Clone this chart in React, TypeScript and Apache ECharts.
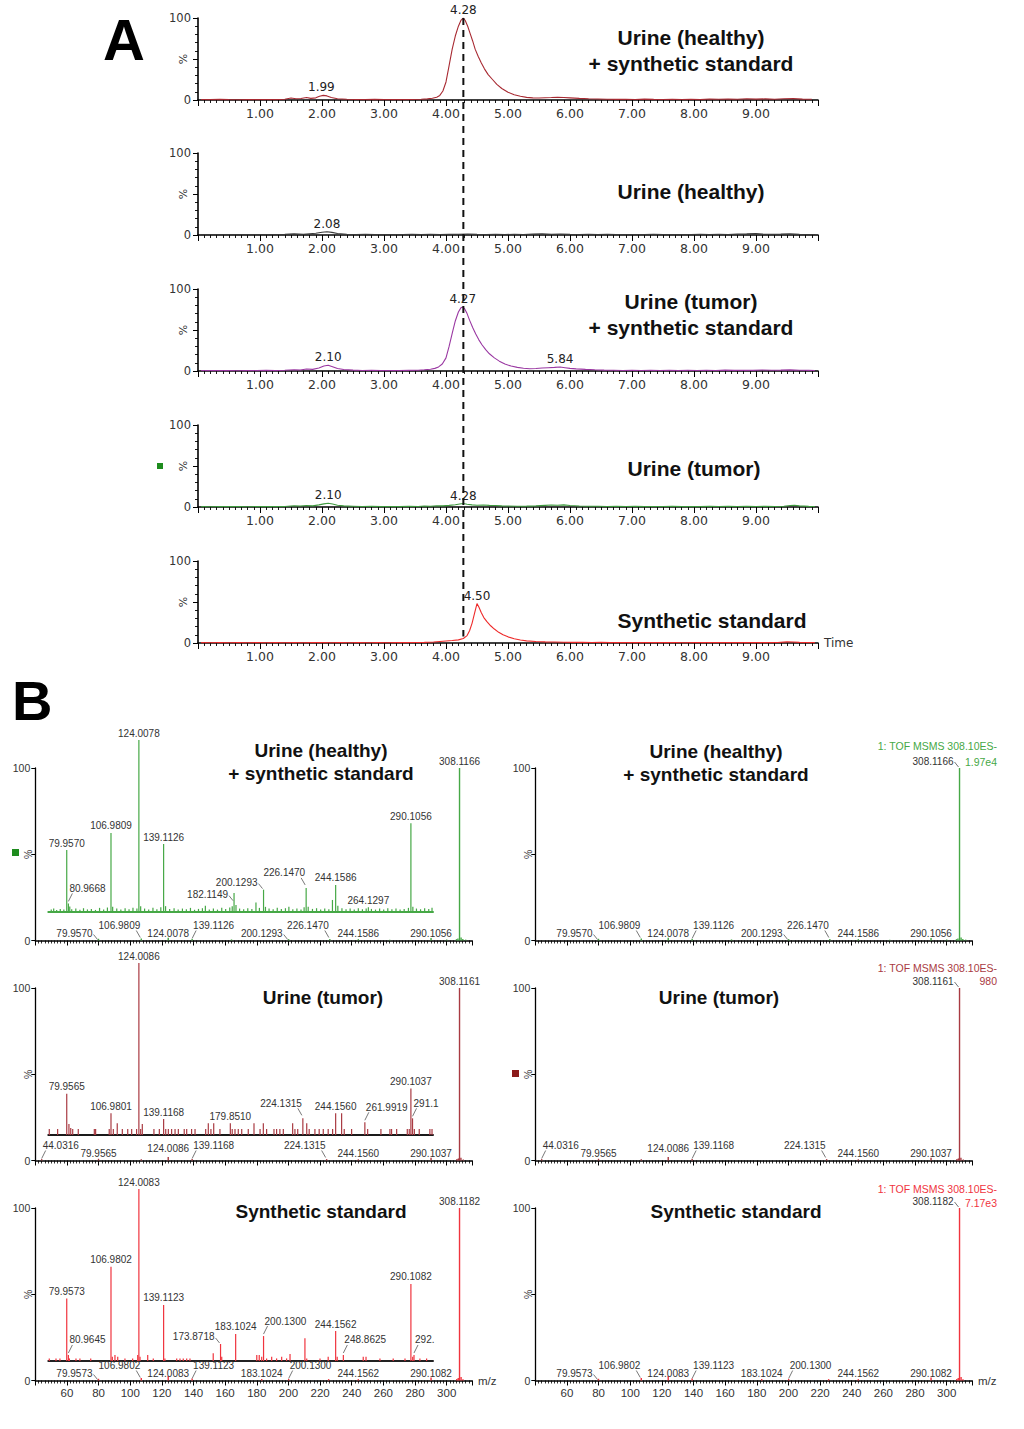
import React, { useEffect, useRef } from 'react';
import * as echarts from 'echarts';

const FONT_A = '"DejaVu Sans", Verdana, sans-serif';
const FONT_B = '"Liberation Sans", Arial, sans-serif';

// ---------- Panel A: chromatograms (time, %) ----------
const CHROM_HEALTHY_STD = [[0.05,0.6],[0.2,0.4],[0.35,0.8],[0.5,0.5],[0.65,0.3],[0.8,0.6],[0.95,0.4],[1.1,0.7],[1.25,0.5],[1.4,1.0],[1.5,2.4],[1.58,1.6],[1.66,1.8],[1.75,3.0],[1.82,2.0],[1.9,2.6],[1.96,4.6],[2.02,5.6],[2.08,5.0],[2.15,3.0],[2.25,1.6],[2.4,1.0],[2.55,0.7],[2.7,0.5],[2.85,0.8],[3.0,0.4],[3.15,0.6],[3.3,0.5],[3.45,0.7],[3.6,0.9],[3.7,1.4],[3.78,2.2],[3.85,3.4],[3.9,5.6],[3.95,11],[4.0,22],[4.05,42],[4.1,62],[4.15,78],[4.2,90],[4.24,97],[4.28,100],[4.31,97],[4.35,90],[4.39,81],[4.43,72],[4.47,62],[4.52,53],[4.57,45],[4.62,38],[4.68,31],[4.75,25],[4.82,19],[4.9,14],[5.0,9.5],[5.1,6.5],[5.2,4.5],[5.3,3.2],[5.4,2.6],[5.5,2.4],[5.6,2.8],[5.7,3.0],[5.8,3.4],[5.9,3.0],[6.0,2.6],[6.15,2.0],[6.3,1.6],[6.45,1.3],[6.6,1.0],[6.75,0.8],[6.9,1.0],[7.05,0.7],[7.2,1.1],[7.35,0.8],[7.5,0.6],[7.65,0.9],[7.8,0.6],[7.95,0.9],[8.1,0.5],[8.25,1.2],[8.4,0.9],[8.55,1.3],[8.7,1.0],[8.85,1.5],[9.0,1.1],[9.15,1.4],[9.3,1.0],[9.45,1.6],[9.6,1.8],[9.75,1.1],[9.9,0.9]];
const CHROM_HEALTHY = [[0.05,0.5],[0.2,0.3],[0.35,0.6],[0.5,0.4],[0.65,0.7],[0.8,0.4],[0.95,0.6],[1.1,0.3],[1.25,0.6],[1.4,0.8],[1.55,1.4],[1.7,1.0],[1.8,1.6],[1.9,2.2],[2.0,3.4],[2.08,4.0],[2.16,3.2],[2.25,1.8],[2.4,1.0],[2.55,0.6],[2.7,0.8],[2.85,0.5],[3.0,0.7],[3.15,0.4],[3.3,0.6],[3.45,0.8],[3.6,0.5],[3.75,0.9],[3.9,0.6],[4.05,1.0],[4.2,0.8],[4.35,1.2],[4.5,0.9],[4.65,0.7],[4.8,1.0],[4.95,0.6],[5.1,0.9],[5.25,0.7],[5.4,1.1],[5.55,1.4],[5.7,1.0],[5.85,1.2],[6.0,0.8],[6.15,0.6],[6.3,0.9],[6.45,0.5],[6.6,0.8],[6.75,0.6],[6.9,0.4],[7.05,0.7],[7.2,0.5],[7.35,0.8],[7.5,0.6],[7.65,0.4],[7.8,0.7],[7.95,0.5],[8.1,0.8],[8.25,0.6],[8.4,0.9],[8.55,0.7],[8.7,1.1],[8.85,1.4],[9.0,1.8],[9.1,1.2],[9.25,0.9],[9.4,1.1],[9.55,1.6],[9.7,1.0],[9.85,0.7],[9.95,0.6]];
const CHROM_TUMOR_STD = [[0.05,0.6],[0.2,0.4],[0.35,0.7],[0.5,0.5],[0.65,0.3],[0.8,0.6],[0.95,0.4],[1.1,0.8],[1.25,0.5],[1.4,0.9],[1.55,1.6],[1.65,1.2],[1.75,2.4],[1.85,2.0],[1.95,3.6],[2.03,6.0],[2.1,7.0],[2.17,5.2],[2.25,3.0],[2.35,1.8],[2.5,1.1],[2.65,0.7],[2.8,0.9],[2.95,0.5],[3.1,0.7],[3.25,0.5],[3.4,0.8],[3.55,1.0],[3.65,1.5],[3.75,2.2],[3.82,3.2],[3.88,5],[3.94,8.5],[4.0,16],[4.05,30],[4.1,46],[4.15,61],[4.2,72],[4.24,77],[4.27,78],[4.3,76],[4.34,70],[4.38,62],[4.43,53],[4.48,45],[4.53,38],[4.58,32],[4.64,26],[4.7,21],[4.78,16],[4.86,12],[4.95,8.5],[5.05,6],[5.15,4.4],[5.25,3.4],[5.35,2.8],[5.45,3.0],[5.55,3.6],[5.65,4.0],[5.75,4.4],[5.84,4.8],[5.92,4.0],[6.0,3.2],[6.1,2.6],[6.25,2.0],[6.4,1.5],[6.55,1.1],[6.7,0.9],[6.85,0.7],[7.0,1.0],[7.15,0.7],[7.3,0.9],[7.45,0.6],[7.6,0.8],[7.75,0.5],[7.9,0.8],[8.05,0.6],[8.2,0.9],[8.35,0.7],[8.5,1.1],[8.65,0.8],[8.8,1.0],[8.95,0.8],[9.1,1.2],[9.25,0.9],[9.4,1.1],[9.55,1.4],[9.7,1.0],[9.85,0.8],[9.95,0.6]];
const CHROM_TUMOR = [[0.05,0.5],[0.2,0.3],[0.35,0.6],[0.5,0.4],[0.65,0.5],[0.8,0.3],[0.95,0.6],[1.1,0.4],[1.25,0.5],[1.4,0.7],[1.55,1.5],[1.65,1.2],[1.75,1.8],[1.85,1.4],[1.95,2.6],[2.03,3.8],[2.1,4.5],[2.17,3.6],[2.25,2.2],[2.35,1.4],[2.5,1.0],[2.65,0.6],[2.8,0.8],[2.95,0.5],[3.1,0.7],[3.25,0.5],[3.4,0.8],[3.55,0.6],[3.65,1.2],[3.75,1.0],[3.85,1.6],[3.95,1.4],[4.05,2.0],[4.15,2.8],[4.22,3.6],[4.28,4.2],[4.34,3.4],[4.42,2.6],[4.5,2.2],[4.6,2.4],[4.7,2.0],[4.8,1.8],[4.9,1.4],[5.0,1.2],[5.15,0.9],[5.3,1.1],[5.45,1.4],[5.6,2.0],[5.7,2.4],[5.8,2.2],[5.9,2.6],[6.0,1.8],[6.15,1.2],[6.3,0.9],[6.45,1.0],[6.6,0.7],[6.75,0.9],[6.9,0.6],[7.05,0.8],[7.2,0.5],[7.35,0.7],[7.5,0.6],[7.65,0.8],[7.8,0.5],[7.95,0.7],[8.1,0.5],[8.25,0.8],[8.4,0.6],[8.55,0.8],[8.7,0.6],[8.85,0.9],[9.0,0.7],[9.15,0.8],[9.3,0.6],[9.45,1.0],[9.55,1.8],[9.62,2.2],[9.7,1.4],[9.85,0.8],[9.95,0.6]];
const CHROM_STD = [[0.05,0.4],[0.2,0.3],[0.35,0.5],[0.5,0.3],[0.65,0.4],[0.8,0.3],[0.95,0.5],[1.1,0.3],[1.25,0.4],[1.4,0.3],[1.55,0.5],[1.7,0.3],[1.85,0.4],[2.0,0.5],[2.15,0.3],[2.3,0.4],[2.45,0.3],[2.6,0.5],[2.75,0.3],[2.9,0.4],[3.05,0.3],[3.2,0.5],[3.35,0.4],[3.5,0.6],[3.65,0.8],[3.8,1.2],[3.9,1.8],[4.0,2.4],[4.1,3.0],[4.2,3.8],[4.28,5.5],[4.34,9],[4.38,15],[4.42,24],[4.46,36],[4.5,48],[4.53,44],[4.57,37],[4.61,31],[4.66,26],[4.72,21],[4.78,17],[4.85,13],[4.92,10],[5.0,7.5],[5.1,5.2],[5.2,3.6],[5.3,2.6],[5.45,1.8],[5.6,1.4],[5.75,1.2],[5.9,1.0],[6.05,0.8],[6.2,0.9],[6.35,0.6],[6.5,0.8],[6.65,0.5],[6.8,0.7],[6.95,0.5],[7.1,0.6],[7.25,0.4],[7.4,0.6],[7.55,0.4],[7.7,0.5],[7.85,0.3],[8.0,0.5],[8.15,0.4],[8.3,0.6],[8.45,0.4],[8.6,0.5],[8.75,0.4],[8.9,0.6],[9.05,0.4],[9.2,0.5],[9.35,0.6],[9.5,1.4],[9.6,1.2],[9.7,0.8],[9.85,0.5],[9.95,0.4]];
const CHROM_TRACES = [CHROM_HEALTHY_STD, CHROM_HEALTHY, CHROM_TUMOR_STD, CHROM_TUMOR, CHROM_STD];

const CHROM_PEAK_LABELS = [
  [[1.99, 5.8, '1.99'], [4.28, 100, '4.28']],
  [[2.08, 4.0, '2.08']],
  [[2.10, 7.0, '2.10'], [4.27, 78, '4.27'], [5.84, 4.8, '5.84']],
  [[2.10, 4.5, '2.10'], [4.28, 4.2, '4.28']],
  [[4.50, 48, '4.50']],
];
const CHROM_TITLES = [
  ['Urine (healthy)', '+ synthetic standard'],
  ['Urine (healthy)'],
  ['Urine (tumor)', '+ synthetic standard'],
  ['Urine (tumor)'],
  ['Synthetic standard'],
];
const RETENTION_MARK = 4.28;
const TIME_TICKS = [1, 2, 3, 4, 5, 6, 7, 8, 9];

// ---------- Panel B: MS/MS spectra (m/z, %) ----------
const SAMPLE_TITLES = [
  ['Urine (healthy)', '+ synthetic standard'],
  ['Urine (tumor)'],
  ['Synthetic standard'],
];
const MAIN_HEALTHY = [[79.957,1.0],[106.98,1.2],[124.008,1.6],[139.113,0.9],[164,0.6],[200.129,0.8],[226.147,0.9],[244.159,0.8],[264,0.5],[290.106,1.4],[300,0.6],[306.2,0.8],[307.1,1.2],[308.1166,100],[309.1,1.8],[310.2,0.8],[312,0.5]];
const MAIN_TUMOR = [[44.0316,0.8],[79.9565,1.0],[106.98,0.7],[124.0086,2.0],[139.117,0.9],[224.1315,0.8],[244.156,0.7],[290.1037,1.6],[306.5,0.8],[307.4,1.2],[308.1161,100],[309.0,1.6],[310.5,0.6]];
const MAIN_SYNTH = [[79.9573,1.0],[106.98,1.4],[124.0083,2.6],[139.112,1.2],[183.102,0.8],[200.13,0.9],[225.4,0.8],[244.156,0.8],[290.108,1.8],[306.4,0.9],[307.3,1.4],[308.1182,100],[309.1,2.0],[310.3,0.7]];
const MAIN_SPECTRA = [MAIN_HEALTHY, MAIN_TUMOR, MAIN_SYNTH];

const MAIN_LABELS_HEALTHY = [[79.957,0,'79.9570'],[106.9809,0,'106.9809'],[124.0078,0,'124.0078'],[139.1126,0,'139.1126'],[200.1293,0,'200.1293'],[226.147,0,'226.1470'],[244.1586,0,'244.1586'],[290.1056,0,'290.1056']];
const MAIN_LABELS_TUMOR = [[44.0316,0,'44.0316'],[79.9565,0,'79.9565'],[124.0086,3,'124.0086'],[139.1168,0,'139.1168'],[224.1315,0,'224.1315'],[244.156,0,'244.1560'],[290.1037,0,'290.1037']];
const MAIN_LABELS_SYNTH = [[79.9573,0,'79.9573'],[106.9802,0,'106.9802'],[124.0083,0,'124.0083'],[139.1123,0,'139.1123'],[183.1024,0,'183.1024'],[200.13,0,'200.1300'],[244.1562,0,'244.1562'],[290.1082,0,'290.1082']];
const MAIN_LABELS = [MAIN_LABELS_HEALTHY, MAIN_LABELS_TUMOR, MAIN_LABELS_SYNTH];
const PRECURSOR_LABELS = [[308.1166,100,'308.1166'],[308.1161,100,'308.1161'],[308.1182,100,'308.1182']];
const SCAN_HEADER = '1: TOF MSMS 308.10ES-';
const SCAN_INTENSITY = ['1.97e4', '980', '7.17e3'];
const MZ_TICKS = [60, 80, 100, 120, 140, 160, 180, 200, 220, 240, 260, 280, 300];

const INSET_HEALTHY = [[70.5,1.5],[72,2],[73.8,1.2],[76,1.8],[78.2,1.4],[79.957,36],[80.9668,5],[81.8,3.2],[83,1.6],[85.5,2],[88,1.3],[90.2,2.2],[92.6,1.5],[95,1.8],[97.5,1.2],[100,2.4],[102.5,1.4],[104.8,2.6],[106.9809,46],[108,3],[110.5,2],[113,1.4],[115.6,2.2],[118,1.6],[120.4,2.4],[122.8,2],[124.0078,100],[125.1,3.4],[127.5,2],[130,1.5],[132.6,2.4],[135,1.6],[137.4,2.8],[139.1126,39.5],[140.3,3.4],[142.8,1.8],[145.5,2.2],[148,1.4],[150.6,2],[153,1.6],[155.5,2.4],[158,1.3],[160.4,1.8],[162.8,2.2],[164.6,3.6],[167,1.5],[169.5,2],[172,1.4],[174.6,2.4],[177,1.8],[179.5,2.6],[181,3.4],[182.1149,11],[183.3,4],[185.5,2],[188,1.6],[190.5,2.2],[193,1.8],[195.5,5.5],[197.6,2.4],[200.1293,13],[201.3,3],[203.5,2],[206,1.6],[208.5,2.4],[211,1.8],[213.5,2.2],[215.6,3],[218,1.6],[220.5,2],[223,1.4],[224.9,2.8],[226.147,14],[227.4,3],[230,1.8],[232.5,2.2],[235,1.5],[237.5,2],[240,1.6],[242.2,7],[244.1586,15.7],[245.5,3.6],[248,2.2],[250.5,1.6],[253,2],[255.5,1.4],[258,2.2],[260.5,1.6],[262.8,2],[264.1297,2.8],[266,1.8],[268.5,1.4],[271,2],[273.5,1.5],[276,2.2],[278.5,1.6],[281,2],[283.5,1.4],[286,1.8],[288.6,2.4],[290.1056,51.6],[291.3,3],[293.5,2],[296,1.6],[298.5,2.2],[301,1.8],[303,2.4]];
const INSET_TUMOR = [[69.3,3.5],[74.4,3.5],[79.9565,24],[81.3,6.4],[82.4,4],[83.6,3.5],[87.0,3.5],[96.8,3.5],[97.6,3.5],[105.9,3.5],[106.9801,12.6],[108.4,3.5],[110.8,6.8],[113.9,3.5],[117.2,3.5],[119.6,3.5],[122.6,3.5],[124.0086,100],[125.1,3.5],[126.1,6.4],[133.2,3.5],[136.5,3.5],[139.1168,9.3],[140.4,3.5],[142,3.5],[144,3.5],[146.1,3.5],[148.1,3.5],[151.7,3.5],[153.2,3.5],[156.2,3.5],[158.3,3.5],[164.8,3.5],[166.4,6.8],[168.0,3.5],[169.7,6.8],[173.5,3.5],[179.851,6.8],[181.0,3.5],[182.7,3.5],[184.7,3.5],[186.8,3.5],[190.8,3.5],[194.3,6.8],[198.0,3.5],[200.0,6.8],[202.0,3.5],[206.5,3.5],[208.1,3.5],[210.1,3.5],[212.2,3.5],[217.9,6.8],[219.3,3.5],[221,3.5],[224.1315,9.7],[226.5,6.8],[228.0,3.5],[231.5,3.5],[234.1,3.5],[236.6,3.5],[239.6,3.5],[242.3,3.5],[244.156,12.6],[247.8,12.6],[249.4,3.5],[253.9,3.5],[261.9919,7.4],[263.7,3.5],[271.8,3.5],[277.3,3.5],[278.3,3.5],[281.4,3.5],[287.9,3.5],[289.1,3.5],[290.1037,27],[291.1,9.7],[292.2,3.5],[295.2,3.5],[301.7,3.5],[303.0,3.5]];
const INSET_SYNTH = [[69.3,1.5],[73.4,1.5],[75.8,1.5],[79.9573,36.4],[80.9645,3.5],[81.6,1.5],[85.6,1.5],[88.0,1.5],[94.6,1.5],[106.9802,54.8],[107.8,2.5],[109.4,3.5],[111.1,2.5],[115.5,1.5],[120.2,1.5],[123.3,3.5],[124.0083,100],[124.7,2.5],[129.4,3.5],[132.8,1.5],[139.1123,32.6],[139.9,1.5],[147.1,1.5],[149.1,1.5],[151.1,1.5],[153.2,1.5],[155.2,1.5],[169.4,4.5],[173.8718,9.9],[174.6,2.5],[183.1024,15.7],[196.0,3.5],[197.5,3.5],[199.0,2.5],[200.13,14.5],[202,1.5],[205.1,2.5],[208.1,1.5],[211.2,2.5],[214.2,1.5],[216.3,4],[225.4,13.2],[226.5,1.5],[234.6,1.5],[239.6,2.5],[244.1562,17.4],[245.1,2.5],[248.8625,3.5],[261,2.5],[262.7,2.5],[271.2,1.5],[279.3,1.5],[286.5,1.5],[290.1082,44.8],[291.2,2.5],[292.0,3.5],[295.6,1.5],[299.7,1.5]];
const INSET_SPECTRA = [INSET_HEALTHY, INSET_TUMOR, INSET_SYNTH];

const INSET_LABELS_HEALTHY = [[79.957,36,'79.9570'],[80.9668,5,'80.9668'],[106.9809,46,'106.9809'],[124.0078,100,'124.0078'],[139.1126,39.5,'139.1126'],[182.1149,6,'182.1149'],[200.1293,13,'200.1293'],[226.147,14,'226.1470'],[244.1586,15.7,'244.1586'],[264.1297,2.8,'264.1297'],[290.1056,51.6,'290.1056']];
const INSET_LABELS_TUMOR = [[79.9565,24,'79.9565'],[106.9801,12.6,'106.9801'],[124.0086,100,'124.0086'],[139.1168,9.3,'139.1168'],[179.851,6.8,'179.8510'],[224.1315,9.7,'224.1315'],[244.156,12.6,'244.1560'],[261.9919,7.4,'261.9919'],[290.1037,27,'290.1037'],[291.1,9.7,'291.1']];
const INSET_LABELS_SYNTH = [[79.9573,36.4,'79.9573'],[80.9645,3.5,'80.9645'],[106.9802,54.8,'106.9802'],[124.0083,100,'124.0083'],[139.1123,32.6,'139.1123'],[173.8718,9.9,'173.8718'],[183.1024,15.7,'183.1024'],[200.13,14.5,'200.1300'],[244.1562,17.4,'244.1562'],[248.8625,3.5,'248.8625'],[290.1082,44.8,'290.1082'],[292.0,3.5,'292.']];
const INSET_LABELS = [INSET_LABELS_HEALTHY, INSET_LABELS_TUMOR, INSET_LABELS_SYNTH];

// ---------- styling / layout (not data) ----------
const A_COLORS = ['#a82a32', '#3a3a3a', '#9a38a2', '#3e9a3e', '#ee2a2a'];
const B_COLORS = ['#46a846', '#a93a42', '#f0343e'];
const INSET_AXIS_COLORS = ['#46a846', '#1a1a1a', '#222222'];
const A_TOPS = [18, 153, 289, 425, 561];
const A_H = 82;
const B_TOPS = [768, 988, 1208];
const B_H = 172.5;
const B_LEFTS = [35.3, 535.3];
const B_W = 436.7;
const INSET_BOTTOMS = [912, 1135, 1361];
const INSET_RANGE = [68.7, 303.6];
const MAIN_KINDS = [
  ['l', 'L', 'c', 'R', 'l', 'L', 'c', 'c'],
  ['R', 'c', 'c', 'R', 'L', 'c', 'c'],
  ['l', 'L', 'c', 'R', 'c', 'R', 'c', 'c'],
];
const INSET_KINDS = [
  ['c', 'R', 'c', 'c', 'c', 'l', 'l', 'L', 'c', 'c', 'c'],
  ['c', 'c', 'c', 'c', 'c', 'L', 'c', 'R', 'c', 'R'],
  ['c', 'R', 'c', 'c', 'c', 'l', 'c', 'R', 'c', 'R', 'c', 'R'],
];

function annotSeries(axisIndex: number, items: any[], kinds: string[], font: string, color: string) {
  return {
    type: 'custom',
    xAxisIndex: axisIndex,
    yAxisIndex: axisIndex,
    silent: true,
    clip: false,
    z: 20,
    encode: { x: 0, y: 1 },
    data: items.map((d: any, i: number) => [d[0], d[1], i]),
    renderItem: (_p: any, api: any) => {
      const i = api.value(2);
      const pt = api.coord([api.value(0), api.value(1)]);
      const x = pt[0];
      const y = pt[1];
      const text = items[i][2];
      const k = kinds[i];
      const txt = (tx: number, ty: number, align: string, valign: string) => ({
        type: 'text', x: tx, y: ty,
        style: { text, font, fill: color, textAlign: align, textVerticalAlign: valign },
      });
      const lead = (x1: number, y1: number, x2: number, y2: number) => ({
        type: 'line', shape: { x1, y1, x2, y2 }, style: { stroke: '#555', lineWidth: 0.8 },
      });
      let children: any[];
      if (k === 'l') children = [txt(x - 6, y - 7, 'right', 'middle'), lead(x - 5, y - 6, x - 1, y - 1)];
      else if (k === 'L') children = [txt(x - 1, y - 15, 'right', 'middle'), lead(x - 5, y - 10, x - 1, y - 3)];
      else if (k === 'R') children = [txt(x + 1, y - 15, 'left', 'middle'), lead(x, y - 2, x + 4, y - 10)];
      else children = [txt(x, y - 2, 'center', 'bottom')];
      return { type: 'group', children };
    },
  };
}

function stickSeries(axisIndex: number, data: number[][], color: string, width: number) {
  return {
    type: 'custom',
    xAxisIndex: axisIndex,
    yAxisIndex: axisIndex,
    silent: true,
    z: 5,
    encode: { x: 0, y: 1 },
    data,
    renderItem: (_p: any, api: any) => {
      const mz = api.value(0);
      const p0 = api.coord([mz, 0]);
      const p1 = api.coord([mz, api.value(1)]);
      return {
        type: 'line',
        shape: { x1: p0[0], y1: p0[1], x2: p1[0], y2: p1[1] },
        style: { stroke: color, lineWidth: width },
      };
    },
  };
}

function buildOption() {
  const grid: any[] = [];
  const xAxis: any[] = [];
  const yAxis: any[] = [];
  const series: any[] = [];

  // Panel A
  for (let i = 0; i < 5; i++) {
    grid.push({ left: 198, top: A_TOPS[i], width: 620, height: A_H, containLabel: false, outerBoundsMode: 'none' });
    xAxis.push({
      type: 'value', gridIndex: i, min: 0, max: 10, interval: 1,
      axisLine: { show: true, onZero: false, lineStyle: { color: '#000', width: 1.6 } },
      axisTick: { show: true, length: 6, lineStyle: { color: '#000', width: 1 } },
      minorTick: { show: true, splitNumber: 10, length: 3, lineStyle: { color: '#000', width: 0.9 } },
      axisLabel: {
        formatter: (v: number) => (TIME_TICKS.indexOf(v) >= 0 ? v.toFixed(2) : ''),
        color: '#333', fontFamily: FONT_A, fontSize: 12.5, margin: 7,
      },
      splitLine: { show: false },
      name: i === 4 ? 'Time' : '',
      nameLocation: 'end', nameGap: 6, nameMoveOverlap: false,
      nameTextStyle: { color: '#333', fontFamily: FONT_A, fontSize: 12 },
    });
    yAxis.push({
      type: 'value', gridIndex: i, min: 0, max: 100, interval: 50,
      axisLine: { show: true, lineStyle: { color: '#000', width: 1.6 } },
      axisTick: { show: true, length: 5, lineStyle: { color: '#000', width: 1 } },
      minorTick: { show: true, splitNumber: 5, length: 3, lineStyle: { color: '#000', width: 0.9 } },
      axisLabel: {
        formatter: (v: number) => (v === 50 ? '' : String(v)),
        color: '#333', fontFamily: FONT_A, fontSize: 11.5, margin: 7,
      },
      splitLine: { show: false },
      name: '%', nameLocation: 'middle', nameRotate: 90, nameGap: 9, nameMoveOverlap: false,
      nameTextStyle: { color: '#333', fontFamily: FONT_A, fontSize: 11 },
    });
  }
  // Panel B main grids: index 5 + row*2 + col
  for (let row = 0; row < 3; row++) {
    for (let col = 0; col < 2; col++) {
      const gi = 5 + row * 2 + col;
      grid.push({ left: B_LEFTS[col], top: B_TOPS[row], width: B_W, height: B_H, containLabel: false, outerBoundsMode: 'none' });
      xAxis.push({
        type: 'value', gridIndex: gi, min: 40, max: 316, interval: 20,
        axisLine: { show: true, onZero: false, lineStyle: { color: '#000', width: 1.5 } },
        axisTick: { show: true, length: 5, lineStyle: { color: '#000', width: 1 } },
        minorTick: { show: true, splitNumber: 10, length: 3, lineStyle: { color: '#000', width: 0.8 } },
        axisLabel: {
          show: row === 2,
          formatter: (v: number) => (MZ_TICKS.indexOf(v) >= 0 ? String(v) : ''),
          color: '#333', fontFamily: FONT_B, fontSize: 11.5, margin: 6,
        },
        splitLine: { show: false },
        name: row === 2 ? 'm/z' : '',
        nameLocation: 'end', nameGap: 6, nameMoveOverlap: false,
        nameTextStyle: { color: '#333', fontFamily: FONT_B, fontSize: 11.5 },
      });
      yAxis.push({
        type: 'value', gridIndex: gi, min: 0, max: 100, interval: 50,
        axisLine: { show: true, lineStyle: { color: '#000', width: 1.3 } },
        axisTick: { show: true, length: 4, lineStyle: { color: '#000', width: 1 } },
        axisLabel: {
          formatter: (v: number) => (v === 50 ? '' : String(v)),
          color: '#333', fontFamily: FONT_B, fontSize: 10.5, margin: 5,
        },
        splitLine: { show: false },
        name: '%', nameLocation: 'middle', nameRotate: 90, nameGap: 2, nameMoveOverlap: false,
        nameTextStyle: { color: '#333', fontFamily: FONT_B, fontSize: 10.5 },
      });
    }
  }
  // Insets: index 11 + row
  for (let row = 0; row < 3; row++) {
    const gi = 11 + row;
    grid.push({ left: 48.3, top: INSET_BOTTOMS[row] - 172, width: 384.7, height: 172, containLabel: false, outerBoundsMode: 'none' });
    xAxis.push({
      type: 'value', gridIndex: gi, min: INSET_RANGE[0], max: INSET_RANGE[1],
      axisLine: { show: true, onZero: false, lineStyle: { color: INSET_AXIS_COLORS[row], width: 2 } },
      axisTick: { show: false }, axisLabel: { show: false }, splitLine: { show: false },
    });
    yAxis.push({ type: 'value', gridIndex: gi, min: 0, max: 100, show: false, splitLine: { show: false } });
  }

  // Series: chromatograms
  CHROM_TRACES.forEach((tr, i) => {
    series.push({
      type: 'line', xAxisIndex: i, yAxisIndex: i, data: tr,
      showSymbol: false, symbol: 'none', silent: true, z: 3,
      lineStyle: { color: A_COLORS[i], width: 1.1 },
    });
    series.push(annotSeries(i, CHROM_PEAK_LABELS[i], CHROM_PEAK_LABELS[i].map(() => 'c'), '12px ' + FONT_A, '#222'));
  });
  // Series: spectra
  for (let row = 0; row < 3; row++) {
    for (let col = 0; col < 2; col++) {
      const ai = 5 + row * 2 + col;
      series.push(stickSeries(ai, MAIN_SPECTRA[row], B_COLORS[row], 1.4));
      const items = MAIN_LABELS[row].concat([PRECURSOR_LABELS[row]]);
      const kinds = MAIN_KINDS[row].concat([col === 0 ? 'c' : 'l']);
      series.push(annotSeries(ai, items, kinds, '10px ' + FONT_B, '#333'));
    }
    series.push(stickSeries(11 + row, INSET_SPECTRA[row], B_COLORS[row], 1.2));
    series.push(annotSeries(11 + row, INSET_LABELS[row], INSET_KINDS[row], '10px ' + FONT_B, '#333'));
  }

  return { animation: false, backgroundColor: '#fff', grid, xAxis, yAxis, series };
}

function buildGraphic(top: number[], bot: number[]) {
  const els: any[] = [];
  const bold = (size: number) => 'bold ' + size + 'px ' + FONT_B;
  els.push({ type: 'text', x: 103, y: 39, z: 50, style: { text: 'A', font: bold(58), fill: '#000', textAlign: 'left', textVerticalAlign: 'middle' } });
  els.push({ type: 'text', x: 12, y: 700, z: 50, style: { text: 'B', font: bold(56), fill: '#000', textAlign: 'left', textVerticalAlign: 'middle' } });

  const aTitlePos = [[691, 37, 26], [691, 191, 26], [691, 301, 26], [694, 468, 26], [712, 620, 26]];
  CHROM_TITLES.forEach((lines, i) => {
    lines.forEach((t, j) => {
      els.push({ type: 'text', x: aTitlePos[i][0], y: aTitlePos[i][1] + j * aTitlePos[i][2], z: 50,
        style: { text: t, font: bold(21), fill: '#111', textAlign: 'center', textVerticalAlign: 'middle' } });
    });
  });
  const bTitlePos = [[[321, 750], [716, 751]], [[323, 997], [719, 997]], [[321, 1211], [736, 1211]]];
  SAMPLE_TITLES.forEach((lines, row) => {
    for (let col = 0; col < 2; col++) {
      lines.forEach((t, j) => {
        els.push({ type: 'text', x: bTitlePos[row][col][0], y: bTitlePos[row][col][1] + j * 23, z: 50,
          style: { text: t, font: bold(19), fill: '#111', textAlign: 'center', textVerticalAlign: 'middle' } });
      });
    }
  });
  const headerY = [746, 968, 1189];
  const intensY = [762, 981, 1203];
  for (let row = 0; row < 3; row++) {
    els.push({ type: 'text', x: 997, y: headerY[row], z: 50,
      style: { text: SCAN_HEADER, font: '10.5px ' + FONT_B, fill: B_COLORS[row], textAlign: 'right', textVerticalAlign: 'middle' } });
    els.push({ type: 'text', x: 997, y: intensY[row], z: 50,
      style: { text: SCAN_INTENSITY[row], font: '10.5px ' + FONT_B, fill: B_COLORS[row], textAlign: 'right', textVerticalAlign: 'middle' } });
  }
  els.push({ type: 'rect', shape: { x: 157, y: 463, width: 6, height: 6 }, style: { fill: '#1e8c1e' }, z: 50 });
  els.push({ type: 'rect', shape: { x: 12, y: 849, width: 7, height: 7 }, style: { fill: '#1e8c1e' }, z: 50 });
  els.push({ type: 'rect', shape: { x: 512, y: 1070, width: 7, height: 7 }, style: { fill: '#8b1a1a' }, z: 50 });

  els.push({ type: 'line', z: 100, shape: { x1: top[0], y1: top[1], x2: bot[0], y2: bot[1] },
    style: { stroke: '#111', lineWidth: 2, lineDash: [7, 5] } });
  return els;
}

export default function App() {
  const ref = useRef<HTMLDivElement>(null);
  useEffect(() => {
    const chart = echarts.init(ref.current as HTMLDivElement, null, { renderer: 'svg' });
    chart.setOption(buildOption());
    const top = chart.convertToPixel({ gridIndex: 0 }, [RETENTION_MARK, 100]) as number[];
    const bot = chart.convertToPixel({ gridIndex: 4 }, [RETENTION_MARK, 8]) as number[];
    chart.setOption({ graphic: buildGraphic(top, bot) });
    return () => chart.dispose();
  }, []);
  return (
    <div
      ref={ref}
      style={{ position: 'absolute', left: 0, top: 0, width: 1024, height: 1429, background: '#fff' }}
    />
  );
}
